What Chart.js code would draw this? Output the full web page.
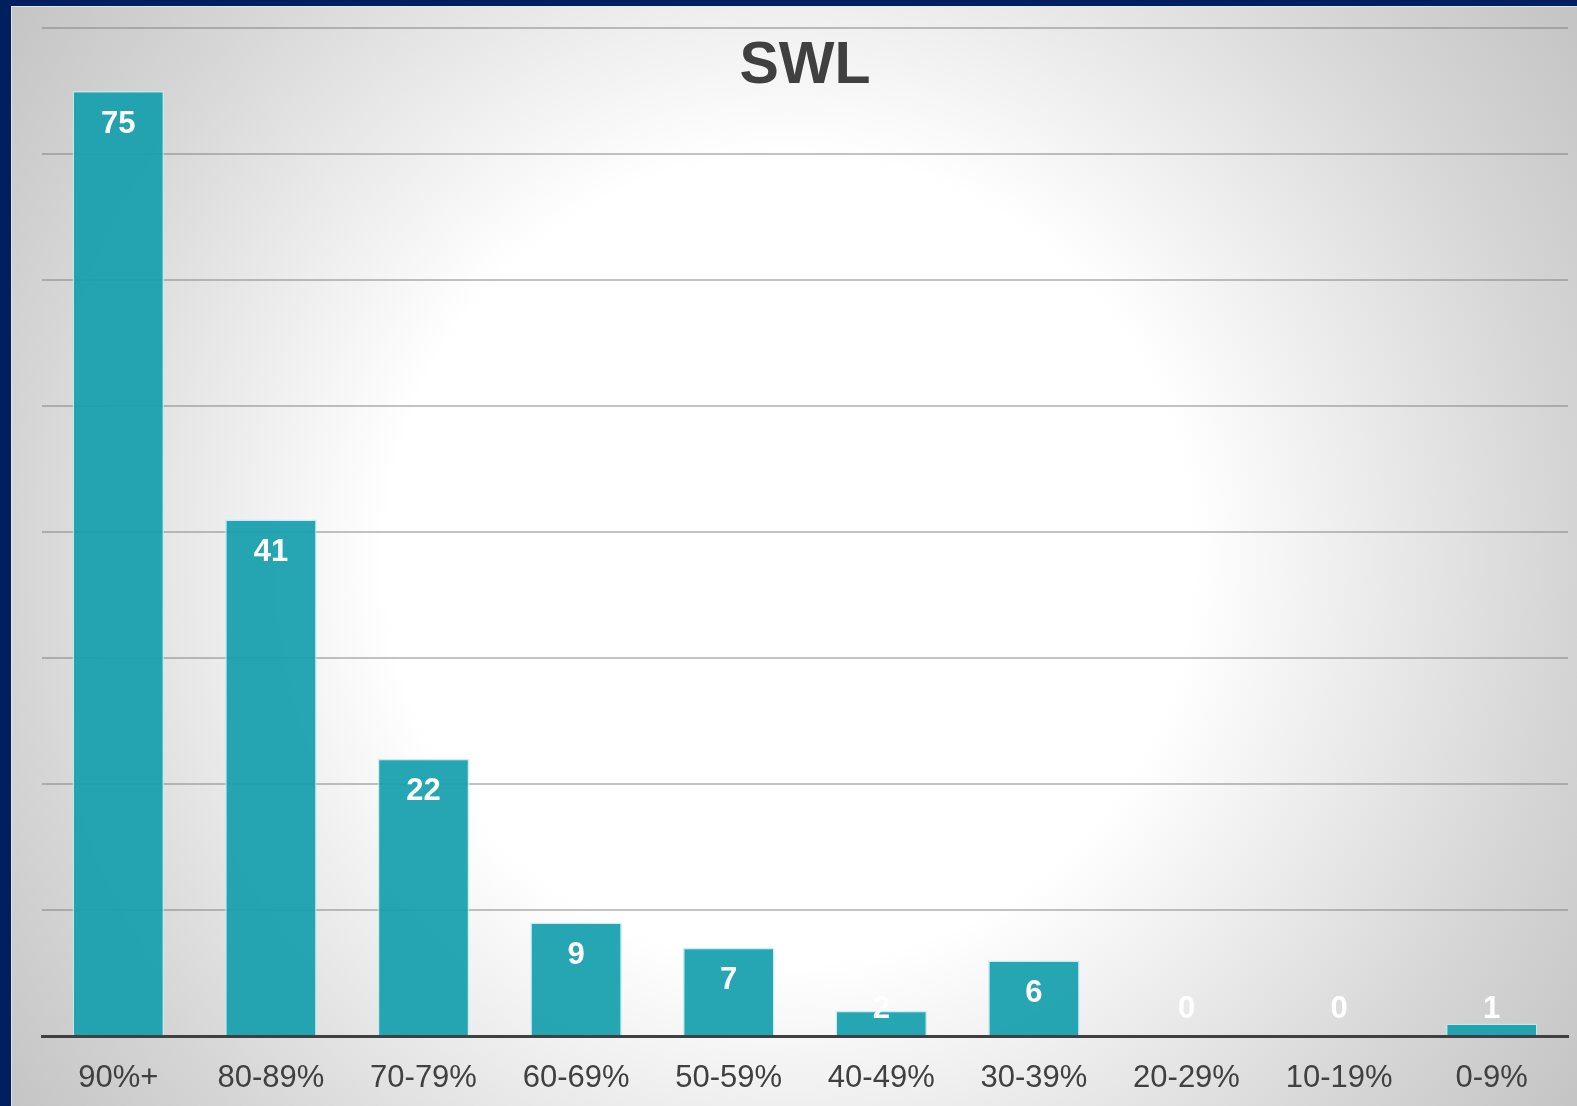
<!DOCTYPE html>
<html lang="en">
  <head>
    <meta charset="UTF-8" />
    <title>SWL</title>
    <script src="https://cdn.jsdelivr.net/npm/chart.js"></script>
    <style>
      html,
      body {
        margin: 0;
        padding: 0;
        width: 1577px;
        height: 1106px;
        overflow: hidden;
        background: #001f5f;
      }
      #wrap {
        width: 1577px;
        height: 1106px;
      }
    </style>
  </head>
  <body>
    <div id="wrap"><canvas id="swlChart"></canvas></div>
    <script>
      // data
      const chartTitle = "SWL";
      const categories = [
        "90%+",
        "80-89%",
        "70-79%",
        "60-69%",
        "50-59%",
        "40-49%",
        "30-39%",
        "20-29%",
        "10-19%",
        "0-9%",
      ];
      const counts = [75, 41, 22, 9, 7, 2, 6, 0, 0, 1];
      const yMax = 80;
      const yStep = 10;

      const fontFamily = "'Liberation Sans', Arial, sans-serif";

      // background: navy frame + radial grey gradient
      const backgroundPlugin = {
        id: "slideBackground",
        beforeDraw(chart) {
          const ctx = chart.ctx;
          const w = chart.width;
          const h = chart.height;
          ctx.save();
          ctx.fillStyle = "#001f5f";
          ctx.fillRect(0, 0, w, h);
          const g = ctx.createRadialGradient(790, 560, 0, 790, 560, 960);
          g.addColorStop(0, "#ffffff");
          g.addColorStop(0.42, "#ffffff");
          g.addColorStop(0.56, "#f0f0f0");
          g.addColorStop(0.8, "#d6d6d6");
          g.addColorStop(1, "#c4c4c4");
          ctx.fillStyle = g;
          ctx.fillRect(11, 6, w - 11, h - 6);
          ctx.strokeStyle = "rgba(235,235,235,0.8)";
          ctx.lineWidth = 1;
          ctx.strokeRect(11.5, 6.5, w, h);
          ctx.restore();
        },
      };

      // title and value labels
      const labelPlugin = {
        id: "valueLabels",
        afterDatasetsDraw(chart) {
          const ctx = chart.ctx;
          const area = chart.chartArea;
          ctx.save();
          ctx.fillStyle = "#404040";
          ctx.font = "bold 59px " + fontFamily;
          ctx.textAlign = "center";
          ctx.textBaseline = "alphabetic";
          ctx.fillText(chartTitle, (area.left + area.right) / 2, 83);

          ctx.fillStyle = "#ffffff";
          ctx.font = "bold 31px " + fontFamily;
          ctx.textBaseline = "middle";
          const meta = chart.getDatasetMeta(0);
          meta.data.forEach(function (bar, i) {
            const y = Math.min(bar.y + 33, area.bottom - 27);
            ctx.fillText(String(counts[i]), bar.x, y);
          });
          ctx.restore();
        },
      };

      const ctxSwl = document.getElementById("swlChart").getContext("2d");
      const swlChart = new Chart(ctxSwl, {
        type: "bar",
        data: {
          labels: categories,
          datasets: [
            {
              label: chartTitle,
              data: counts,
              backgroundColor: "rgba(22, 158, 172, 0.93)",
              borderColor: "rgba(190, 235, 240, 0.85)",
              borderWidth: 1.5,
              barPercentage: 0.6,
              categoryPercentage: 1,
            },
          ],
        },
        options: {
          responsive: true,
          maintainAspectRatio: false,
          animation: false,
          layout: {
            padding: { left: 42, right: 9, top: 28, bottom: 12 },
          },
          plugins: {
            legend: { display: false },
            title: { display: false },
            tooltip: { enabled: false },
          },
          scales: {
            x: {
              grid: { display: false, drawTicks: false },
              border: { display: true, color: "#404040", width: 3 },
              ticks: {
                color: "#404040",
                padding: 24,
                maxRotation: 0,
                font: { family: fontFamily, size: 31 },
              },
              afterFit(scale) {
                scale.height = 58;
              },
            },
            y: {
              min: 0,
              max: yMax,
              grid: {
                color: "rgba(120, 120, 120, 0.45)",
                lineWidth: 2,
                drawTicks: false,
              },
              border: { display: false },
              ticks: { display: false, stepSize: yStep },
            },
          },
        },
        plugins: [backgroundPlugin, labelPlugin],
      });
    </script>
  </body>
</html>
